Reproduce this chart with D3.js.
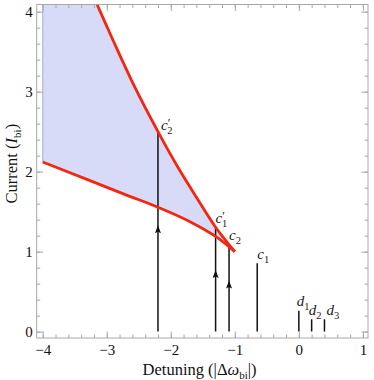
<!DOCTYPE html>
<html>
<head>
<meta charset="utf-8">
<script src="https://cdn.jsdelivr.net/npm/d3@7"></script>
<style>
  body { margin: 0; background: #fff; }
  svg { display: block; font-family: "Liberation Serif", "DejaVu Serif", serif; }
  .frame line, .frame path { stroke: #a8a8a8; }
  .tick text { fill: #111; font-size: 15px; font-family: "Liberation Serif", serif; }
</style>
</head>
<body>
<div class="chart"></div>
<script>
// upper boundary of the bistable region
var upperX = [-3.2, -2.9, -2.6, -2.2, -1.9, -1.6, -1.3, -1.0];
var upperI = [4.18, 3.64, 3.12, 2.5, 2.07, 1.68, 1.305, 1.0];
// lower boundary
var lowerX = [-4.0, -3.3, -2.7, -2.2, -1.7, -1.3, -1.0];
var lowerI = [2.12, 1.9, 1.71, 1.555, 1.375, 1.19, 1.0];

// vertical marker lines
var markName = ["c2p", "c1p", "c2", "c1", "d1", "d2", "d3"];
var markX = [-2.2, -1.3, -1.09, -0.65, 0, 0.2, 0.4];
var markTop = [2.5, 1.305, 1.08, 0.855, 0.26, 0.155, 0.155];
var markArrow = [1.33, 0.77, 0.64, null, null, null, null];

var xTicks = [-4, -3, -2, -1, 0, 1];
var yTicks = [0, 1, 2, 3, 4];

// label layout (pixel offsets from top of each line)
var labelDx = [3, 0, 0, 0, -2, -3, 2];
var labelDy = [-2, -4, -5, -4, -5, -4, -4];

var draw = function () {
  var margin = {top: 4.5, right: 6, bottom: 42, left: 36.7},
      width = 374 - margin.left - margin.right,
      height = 380 - margin.top - margin.bottom;

  var x = d3.scaleLinear().domain([-4.094, 1.08]).range([0, width]);
  var y = d3.scaleLinear().domain([-0.08, 4.09]).range([height, 0]);

  var svg = d3.select(".chart").append("svg")
      .attr("width", 374)
      .attr("height", 380)
    .append("g")
      .attr("transform", "translate(" + margin.left + "," + margin.top + ")");

  svg.append("clipPath").attr("id", "clip")
    .append("rect").attr("width", width).attr("height", height);

  var upper = upperX.map(function (d, i) { return [d, upperI[i]]; });
  var lower = lowerX.map(function (d, i) { return [d, lowerI[i]]; });

  var line = d3.line()
      .x(function (d) { return x(d[0]); })
      .y(function (d) { return y(d[1]); })
      .curve(d3.curveCatmullRom);

  var plot = svg.append("g").attr("clip-path", "url(#clip)");

  // shaded region between the two curves, from x = -4
  var lowerRev = lower.slice().reverse();
  var fillPath = "M" + x(-4) + "," + y(5) + "L" + x(upper[0][0]) + "," + y(5) +
      "L" + line(upper).slice(1) + "L" + line(lowerRev).slice(1) + "Z";
  plot.append("path")
      .attr("d", fillPath)
      .attr("fill", "#d7dbf8")
      .attr("stroke", "none");
  plot.append("line")
      .attr("x1", x(-4)).attr("x2", x(-4))
      .attr("y1", y(lower[0][1])).attr("y2", y(5))
      .attr("stroke", "#b4b8d6").attr("stroke-width", 1.2);

  // vertical lines
  var marks = markName.map(function (d, i) {
    return {name: d, x: markX[i], top: markTop[i], arrow: markArrow[i], dx: labelDx[i], dy: labelDy[i]};
  });

  plot.selectAll(".mark")
      .data(marks)
    .enter().append("line")
      .attr("class", "mark")
      .attr("x1", function (d) { return x(d.x); })
      .attr("x2", function (d) { return x(d.x); })
      .attr("y1", y(0))
      .attr("y2", function (d) { return y(d.top); })
      .attr("stroke", "#111")
      .attr("stroke-width", 1.5);

  plot.selectAll(".arrow")
      .data(marks.filter(function (d) { return d.arrow !== null; }))
    .enter().append("path")
      .attr("class", "arrow")
      .attr("d", function (d) {
        var px = x(d.x), py = y(d.arrow);
        return "M" + px + "," + py + "L" + (px - 3) + "," + (py + 8) +
               "L" + px + "," + (py + 6.5) + "L" + (px + 3) + "," + (py + 8) + "Z";
      })
      .attr("fill", "#111");

  // red boundary curves
  plot.append("path").datum(upper)
      .attr("d", line)
      .attr("fill", "none")
      .attr("stroke", "#f5260f")
      .attr("stroke-width", 2.8);
  plot.append("path").datum(lower)
      .attr("d", line)
      .attr("fill", "none")
      .attr("stroke", "#f5260f")
      .attr("stroke-width", 2.8);

  // labels
  var lab = svg.selectAll(".lab")
      .data(marks)
    .enter().append("text")
      .attr("class", "lab")
      .attr("x", function (d) { return x(d.x) + d.dx; })
      .attr("y", function (d) { return y(d.top) + d.dy; })
      .attr("font-size", "15px")
      .attr("fill", "#222");
  lab.append("tspan")
      .attr("font-style", "italic")
      .text(function (d) { return d.name.charAt(0); });
  lab.filter(function (d) { return d.name.length > 2; })
    .append("tspan")
      .attr("font-size", "12px")
      .attr("dy", -3)
      .text("\u2032");
  lab.append("tspan")
      .attr("font-size", "10.5px")
      .attr("dx", function (d) { return d.name.length > 2 ? -3 : 0; })
      .attr("dy", function (d) { return d.name.length > 2 ? 7 : 4; })
      .text(function (d) { return d.name.charAt(1); });

  // frame with inward ticks
  var minorX = d3.range(-4, 1.01, 0.2), minorY = d3.range(0, 4.01, 0.2);
  var fmt = d3.format("d");
  var frame = svg.append("g").attr("class", "frame");

  frame.append("g").attr("transform", "translate(0," + height + ")")
      .call(d3.axisBottom(x).tickValues(minorX).tickSize(-3.5).tickFormat(""));
  frame.append("g").attr("transform", "translate(0," + height + ")")
      .call(d3.axisBottom(x).tickValues(xTicks).tickSize(-6.5).tickPadding(6).tickFormat(fmt));
  frame.append("g")
      .call(d3.axisTop(x).tickValues(minorX).tickSize(-3.5).tickFormat(""));
  frame.append("g")
      .call(d3.axisTop(x).tickValues(xTicks).tickSize(-6.5).tickFormat(""));

  frame.append("g")
      .call(d3.axisLeft(y).tickValues(minorY).tickSize(-3.5).tickFormat(""));
  frame.append("g")
      .call(d3.axisLeft(y).tickValues(yTicks).tickSize(-6.5).tickPadding(4).tickFormat(fmt));
  frame.append("g").attr("transform", "translate(" + width + ",0)")
      .call(d3.axisRight(y).tickValues(minorY).tickSize(-3.5).tickFormat(""));
  frame.append("g").attr("transform", "translate(" + width + ",0)")
      .call(d3.axisRight(y).tickValues(yTicks).tickSize(-6.5).tickFormat(""));

  frame.selectAll(".domain").remove();
  frame.selectAll("g").attr("font-family", null).attr("font-size", null);
  frame.append("rect")
      .attr("width", width).attr("height", height)
      .attr("fill", "none").attr("stroke", "#a8a8a8");

  // axis titles
  var xt = svg.append("text")
      .attr("x", x(-1.55)).attr("y", height + 37)
      .attr("text-anchor", "middle")
      .attr("font-size", "16.5px")
      .attr("fill", "#111");
  xt.append("tspan").text("Detuning (|\u0394");
  xt.append("tspan").attr("font-style", "italic").text("\u03c9");
  xt.append("tspan").attr("font-size", "11px").attr("dy", 4).text("bi");
  xt.append("tspan").attr("dy", -4).text("|)");

  var yt = svg.append("text")
      .attr("transform", "translate(" + (-margin.left + 17) + "," + y(2.1) + ") rotate(-90)")
      .attr("text-anchor", "middle")
      .attr("font-size", "16.5px")
      .attr("fill", "#111");
  yt.append("tspan").text("Current (");
  yt.append("tspan").attr("font-style", "italic").text("I");
  yt.append("tspan").attr("font-size", "11px").attr("dy", 4).text("bi");
  yt.append("tspan").attr("dy", -4).text(")");
};

draw();
</script>
</body>
</html>
